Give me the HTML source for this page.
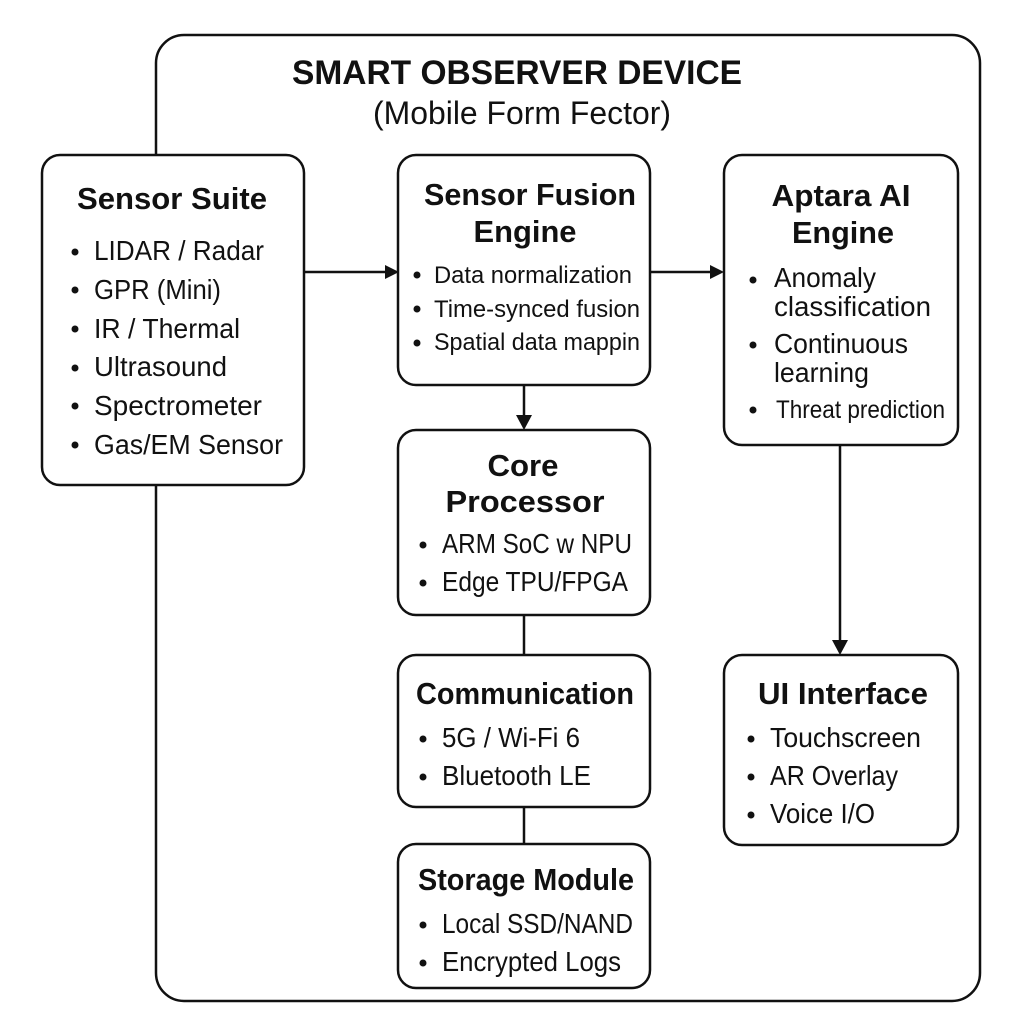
<!DOCTYPE html>
<html><head><meta charset="utf-8"><style>html,body{margin:0;padding:0;background:#fff}svg{display:block}
text{font-family:"Liberation Sans",sans-serif;fill:#111}
.h{font-weight:700;font-size:31px;text-anchor:middle}
.t{font-size:27.5px}
.s{font-size:24px}
rect{fill:#fff;stroke:#111;stroke-width:2.5}
line{stroke:#111;stroke-width:2.5}
circle{fill:#111}
polygon{fill:#111}
</style></head><body>
<svg width="1024" height="1024" viewBox="0 0 1024 1024" xmlns="http://www.w3.org/2000/svg">
<rect x="156" y="35" width="824" height="966" rx="28"/>
<text x="517" y="84" text-anchor="middle" style="font-weight:700;font-size:34px" textLength="450" lengthAdjust="spacingAndGlyphs">SMART OBSERVER DEVICE</text>
<text x="522" y="124" text-anchor="middle" style="font-size:32px" textLength="298" lengthAdjust="spacingAndGlyphs">(Mobile Form Fector)</text>

<line x1="304" y1="272" x2="388" y2="272"/><polygon points="399,272 385,265 385,279"/>
<line x1="650" y1="272" x2="713" y2="272"/><polygon points="724,272 710,265 710,279"/>
<line x1="524" y1="385" x2="524" y2="419"/><polygon points="524,430 516,415 532,415"/>
<line x1="840" y1="445" x2="840" y2="644"/><polygon points="840,655 832,640 848,640"/>
<line x1="524" y1="615" x2="524" y2="655"/>
<line x1="524" y1="807" x2="524" y2="844"/>

<rect x="42" y="155" width="262" height="330" rx="18"/>
<text class="h" x="172" y="209" textLength="190" lengthAdjust="spacingAndGlyphs">Sensor Suite</text>
<circle cx="75" cy="252" r="3.5"/><text class="t" x="94" y="260" textLength="170" lengthAdjust="spacingAndGlyphs">LIDAR / Radar</text>
<circle cx="75" cy="290" r="3.5"/><text class="t" x="94" y="299" textLength="127" lengthAdjust="spacingAndGlyphs">GPR (Mini)</text>
<circle cx="75" cy="329" r="3.5"/><text class="t" x="94" y="338" textLength="146" lengthAdjust="spacingAndGlyphs">IR / Thermal</text>
<circle cx="75" cy="368" r="3.5"/><text class="t" x="94" y="376" textLength="133" lengthAdjust="spacingAndGlyphs">Ultrasound</text>
<circle cx="75" cy="406" r="3.5"/><text class="t" x="94" y="415" textLength="168" lengthAdjust="spacingAndGlyphs">Spectrometer</text>
<circle cx="75" cy="445" r="3.5"/><text class="t" x="94" y="454" textLength="189" lengthAdjust="spacingAndGlyphs">Gas/EM Sensor</text>

<rect x="398" y="155" width="252" height="230" rx="18"/>
<text class="h" x="530" y="205" textLength="212" lengthAdjust="spacingAndGlyphs">Sensor Fusion</text>
<text class="h" x="525" y="242" textLength="103" lengthAdjust="spacingAndGlyphs">Engine</text>
<circle cx="417" cy="275" r="3.5"/><text class="s" x="434" y="283" textLength="198" lengthAdjust="spacingAndGlyphs">Data normalization</text>
<circle cx="417" cy="309" r="3.5"/><text class="s" x="434" y="317" textLength="206" lengthAdjust="spacingAndGlyphs">Time-synced fusion</text>
<circle cx="417" cy="343" r="3.5"/><text class="s" x="434" y="350" textLength="206" lengthAdjust="spacingAndGlyphs">Spatial data mappin</text>

<rect x="724" y="155" width="234" height="290" rx="18"/>
<text class="h" x="841" y="206" textLength="139" lengthAdjust="spacingAndGlyphs">Aptara AI</text>
<text class="h" x="843" y="243" textLength="102" lengthAdjust="spacingAndGlyphs">Engine</text>
<circle cx="753" cy="280" r="3.5"/><text class="t" x="774" y="287" textLength="102" lengthAdjust="spacingAndGlyphs">Anomaly</text>
<text class="t" x="774" y="316" textLength="157" lengthAdjust="spacingAndGlyphs">classification</text>
<circle cx="753" cy="345" r="3.5"/><text class="t" x="774" y="353" textLength="134" lengthAdjust="spacingAndGlyphs">Continuous</text>
<text class="t" x="774" y="382" textLength="95" lengthAdjust="spacingAndGlyphs">learning</text>
<circle cx="753" cy="410" r="3.5"/><text class="s" x="776" y="418" style="font-size:25px" textLength="169" lengthAdjust="spacingAndGlyphs">Threat prediction</text>

<rect x="398" y="430" width="252" height="185" rx="18"/>
<text class="h" x="523" y="476" textLength="71" lengthAdjust="spacingAndGlyphs">Core</text>
<text class="h" x="525" y="512" textLength="159" lengthAdjust="spacingAndGlyphs">Processor</text>
<circle cx="423" cy="545" r="3.5"/><text class="t" x="442" y="553" textLength="190" lengthAdjust="spacingAndGlyphs">ARM SoC w NPU</text>
<circle cx="423" cy="583" r="3.5"/><text class="t" x="442" y="591" textLength="186" lengthAdjust="spacingAndGlyphs">Edge TPU/FPGA</text>

<rect x="398" y="655" width="252" height="152" rx="18"/>
<text class="h" x="525" y="704" textLength="218" lengthAdjust="spacingAndGlyphs">Communication</text>
<circle cx="423" cy="739" r="3.5"/><text class="t" x="442" y="747" textLength="138" lengthAdjust="spacingAndGlyphs">5G / Wi-Fi 6</text>
<circle cx="423" cy="777" r="3.5"/><text class="t" x="442" y="785" textLength="149" lengthAdjust="spacingAndGlyphs">Bluetooth LE</text>

<rect x="398" y="844" width="252" height="144" rx="18"/>
<text class="h" x="526" y="890" textLength="216" lengthAdjust="spacingAndGlyphs">Storage Module</text>
<circle cx="423" cy="925" r="3.5"/><text class="t" x="442" y="933" textLength="191" lengthAdjust="spacingAndGlyphs">Local SSD/NAND</text>
<circle cx="423" cy="963" r="3.5"/><text class="t" x="442" y="971" textLength="179" lengthAdjust="spacingAndGlyphs">Encrypted Logs</text>

<rect x="724" y="655" width="234" height="190" rx="18"/>
<text class="h" x="843" y="704" textLength="170" lengthAdjust="spacingAndGlyphs">UI Interface</text>
<circle cx="751" cy="739" r="3.5"/><text class="t" x="770" y="747" textLength="151" lengthAdjust="spacingAndGlyphs">Touchscreen</text>
<circle cx="751" cy="777" r="3.5"/><text class="t" x="770" y="785" textLength="128" lengthAdjust="spacingAndGlyphs">AR Overlay</text>
<circle cx="751" cy="815" r="3.5"/><text class="t" x="770" y="823" textLength="105" lengthAdjust="spacingAndGlyphs">Voice I/O</text>
</svg>
</body></html>
